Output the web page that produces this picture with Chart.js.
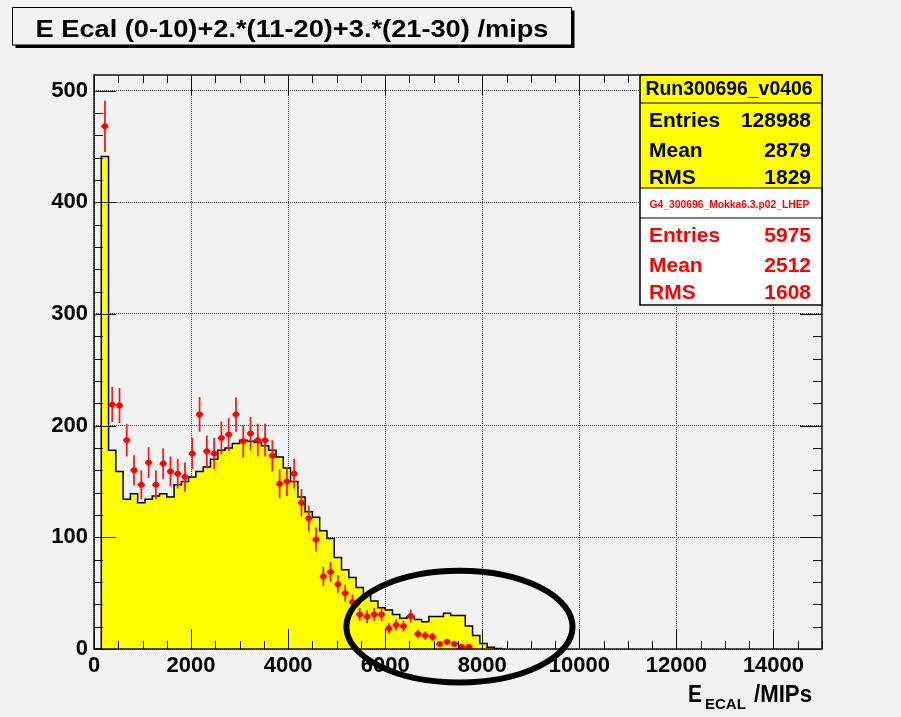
<!DOCTYPE html>
<html>
<head>
<meta charset="utf-8">
<script src="https://cdn.jsdelivr.net/npm/chart.js@4.4.0/dist/chart.umd.min.js"></script>
<style>
  html, body { margin: 0; padding: 0; background: #f2f2f2; }
  #wrap { width: 901px; height: 717px; position: relative; }
</style>
</head>
<body>
<div id="wrap"><canvas id="chart"></canvas></div>
<script>
// histogram bins: 150 MIPs wide, first bin starts at 0
const binWidth = 150;
const dataCounts = [0, 441, 178, 159, 134, 139, 131, 134, 137, 139,
  136, 147, 150, 154, 159, 163, 170, 178, 180, 184,
  187, 186, 185, 182, 178, 172, 162, 150, 136, 123,
  118, 106, 99, 82, 71, 64, 55, 48, 43, 37,
  35, 31, 27.5, 29, 26.5, 24.5, 29, 29, 32, 30,
  30, 20.5, 12, 5, 1.5, 0.5];

// MC points, first one sits in bin 1
const mcFirstBin = 1;
const mcValues = [468, 219, 218, 187, 160, 147, 167, 147, 166, 159,
  157, 154, 175, 210, 177, 175, 189, 192, 210, 186,
  193, 187, 187, 173, 148, 150, 157, 131, 117, 98,
  65, 69, 58, 50, 42, 31, 29, 31, 31, 18.5,
  21.5, 20.5, 29.5, 13.5, 12, 11, 4.5, 6.5, 4.5, 2, 2];
const mcErrors = [23, 15.8, 15.7, 14.6, 13.5, 12.9, 13.8, 12.9, 13.7, 13.4,
  13.3, 13.2, 14.1, 15.5, 14.2, 14.1, 14.7, 14.8, 15.5, 14.5,
  14.8, 14.6, 14.6, 14, 13, 13.1, 13.4, 12.2, 11.5, 10.6,
  8.6, 8.9, 8.1, 7.6, 6.9, 5.9, 5.7, 5.9, 5.9, 4.6,
  5, 4.8, 5.8, 3.9, 3.7, 3.5, 2.3, 2.7, 2.3, 1.5, 1.5];

const xTickValues = [0, 2000, 4000, 6000, 8000, 10000, 12000, 14000];
const yTickValues = [0, 100, 200, 300, 400, 500];

const titleText = 'E Ecal (0-10)+2.*(11-20)+3.*(21-30) /mips';
const statLabels = ['Entries', 'Mean', 'RMS'];
const dataName = 'Run300696_v0406';
const dataStats = ['128988', '2879', '1829'];
const mcName = 'G4_300696_Mokka6.3.p02_LHEP';
const mcStats = ['5975', '2512', '1608'];

const FONT = '"Liberation Sans", Arial, sans-serif';

const histPoints = dataCounts.map((v, i) => ({ x: i * binWidth, y: v }));
histPoints.push({ x: dataCounts.length * binWidth, y: 0 });
const mcPoints = mcValues.map((v, i) => ({ x: (i + mcFirstBin + 0.5) * binWidth, y: v }));

function line(ctx, x1, y1, x2, y2) {
    ctx.beginPath();
    ctx.moveTo(x1, y1);
    ctx.lineTo(x2, y2);
    ctx.stroke();
}

const errorBars = {
    id: 'errorBars',
    beforeDatasetDraw(chart, args) {
        if (args.index !== 1) return;
        const { ctx, scales: { x, y } } = chart;
        ctx.save();
        ctx.strokeStyle = '#ff1a1a';
        mcValues.forEach((v, i) => {
            const xc = (i + mcFirstBin + 0.5) * binWidth;
            const px = x.getPixelForValue(xc);
            const py = y.getPixelForValue(v);
            ctx.lineWidth = 1.8;
            line(ctx, px, y.getPixelForValue(v - mcErrors[i]), px, y.getPixelForValue(v + mcErrors[i]));
            ctx.lineWidth = 2.2;
            line(ctx, x.getPixelForValue(xc - binWidth / 2), py, x.getPixelForValue(xc + binWidth / 2), py);
        });
        ctx.restore();
    }
};

const frameTicks = {
    id: 'frameTicks',
    afterDatasetsDraw(chart) {
        const { ctx, chartArea: a, scales: { x, y } } = chart;
        ctx.save();
        ctx.strokeStyle = '#111';
        ctx.lineWidth = 1;
        for (let v = 0; v <= x.max; v += 500) {
            const px = Math.round(x.getPixelForValue(v)) + 0.5;
            const len = v % 2000 === 0 ? 20 : 8;
            line(ctx, px, a.bottom, px, a.bottom - len);
            line(ctx, px, a.top, px, a.top + len);
        }
        for (let v = 0; v <= y.max; v += 20) {
            const py = Math.round(y.getPixelForValue(v)) + 0.5;
            const len = v % 100 === 0 ? 22 : 9;
            line(ctx, a.left, py, a.left + len, py);
            line(ctx, a.right, py, a.right - len, py);
        }
        ctx.lineWidth = 1.5;
        ctx.strokeRect(a.left, a.top, a.right - a.left, a.bottom - a.top);
        ctx.restore();
    }
};

function fitText(ctx, text, x, y, width, align) {
    const w = ctx.measureText(text).width;
    ctx.save();
    ctx.translate(x, y);
    ctx.scale(width / w, 1);
    ctx.textAlign = align;
    ctx.fillText(text, 0, 0);
    ctx.restore();
}

const decorations = {
    id: 'decorations',
    afterDraw(chart) {
        const { ctx, scales: { x, y } } = chart;
        ctx.save();
        ctx.textBaseline = 'alphabetic';

        // title pave with shadow
        ctx.fillStyle = '#000';
        ctx.fillRect(15.5, 10.5, 559, 37.5);
        ctx.fillStyle = '#f2f2f2';
        ctx.fillRect(12.5, 7.5, 559, 37.5);
        ctx.strokeStyle = '#000';
        ctx.lineWidth = 1;
        ctx.strokeRect(12.5, 7.5, 559, 37.5);
        ctx.fillStyle = '#000';
        ctx.font = 'bold 24px ' + FONT;
        fitText(ctx, titleText, 292, 36.5, 513, 'center');

        // stats boxes
        const x0 = 640, x1 = 822;
        ctx.fillStyle = '#ffff00';
        ctx.fillRect(x0, 75, x1 - x0, 113);
        ctx.fillStyle = '#ffffff';
        ctx.fillRect(x0, 188, x1 - x0, 117);
        ctx.lineWidth = 1.5;
        ctx.strokeStyle = '#000';
        ctx.strokeRect(x0, 75, x1 - x0, 230);
        ctx.lineWidth = 1.2;
        [103, 188, 218].forEach(yy => line(ctx, x0, yy, x1, yy));

        ctx.fillStyle = '#000';
        ctx.font = 'bold 20px ' + FONT;
        fitText(ctx, dataName, 729, 95, 167, 'center');
        ctx.font = 'bold 21px ' + FONT;
        const rowsA = [127, 157, 184];
        const rowsB = [242, 272, 299];
        statLabels.forEach((lab, i) => {
            ctx.fillStyle = '#000';
            ctx.textAlign = 'left';
            ctx.fillText(lab, 649, rowsA[i]);
            ctx.textAlign = 'right';
            ctx.fillText(dataStats[i], 811, rowsA[i]);
            ctx.fillStyle = '#ff0000';
            ctx.textAlign = 'left';
            ctx.fillText(lab, 649, rowsB[i]);
            ctx.textAlign = 'right';
            ctx.fillText(mcStats[i], 811, rowsB[i]);
        });
        ctx.fillStyle = '#ff0000';
        ctx.font = 'bold 11px ' + FONT;
        fitText(ctx, mcName, 729.5, 207.5, 160, 'center');

        // x axis title E_ECAL /MIPs
        ctx.fillStyle = '#000';
        ctx.textAlign = 'left';
        ctx.font = 'bold 23px ' + FONT;
        fitText(ctx, 'E', 688, 702, 14, 'left');
        ctx.font = 'bold 15px ' + FONT;
        ctx.fillText('ECAL', 705, 709);
        ctx.font = 'bold 23px ' + FONT;
        fitText(ctx, '/MIPs', 812, 702, 58, 'right');

        // ellipse marking the high energy tail
        const cx = x.getPixelForValue(7530);
        const rx = x.getPixelForValue(7530 + 2330) - cx;
        const cy = y.getPixelForValue(20);
        const ry = cy - y.getPixelForValue(70);
        ctx.strokeStyle = '#000';
        ctx.lineWidth = 6;
        ctx.beginPath();
        ctx.ellipse(cx, cy, rx, ry, 0, 0, Math.PI * 2);
        ctx.stroke();
        ctx.restore();
    }
};

const tickFont = { family: FONT, weight: 'bold', size: 22 };

new Chart(document.getElementById('chart'), {
    type: 'scatter',
    data: {
        datasets: [{
            type: 'line',
            label: dataName,
            data: histPoints,
            stepped: 'before',
            fill: 'origin',
            backgroundColor: '#ffff00',
            borderColor: '#000',
            borderWidth: 1.5,
            pointRadius: 0,
            order: 2
        }, {
            label: mcName,
            data: mcPoints,
            backgroundColor: '#ff0000',
            borderWidth: 0,
            pointRadius: 3,
            order: 1
        }]
    },
    options: {
        responsive: true,
        maintainAspectRatio: false,
        devicePixelRatio: 1,
        animation: false,
        layout: { padding: { top: 75, right: 79, left: 0, bottom: 0 } },
        plugins: { legend: { display: false }, tooltip: { enabled: false } },
        scales: {
            x: {
                type: 'linear',
                min: 0,
                max: 15000,
                afterBuildTicks: s => { s.ticks = xTickValues.map(v => ({ value: v })); },
                afterFit: s => { s.height = 68; },
                ticks: { font: tickFont, color: '#000', padding: 4, maxRotation: 0, autoSkip: false, callback: v => String(v) },
                grid: { color: '#444', lineWidth: 1, drawTicks: false, tickLength: 0 },
                border: { display: false, dash: [1, 1] }
            },
            y: {
                type: 'linear',
                min: 0,
                max: 514,
                afterBuildTicks: s => { s.ticks = yTickValues.map(v => ({ value: v })); },
                afterFit: s => { s.width = 94; },
                ticks: { font: tickFont, color: '#000', padding: 6, callback: v => String(v) },
                grid: { color: '#444', lineWidth: 1, drawTicks: false, tickLength: 0 },
                border: { display: false, dash: [1, 1] }
            }
        }
    },
    plugins: [errorBars, frameTicks, decorations]
});
</script>
</body>
</html>
